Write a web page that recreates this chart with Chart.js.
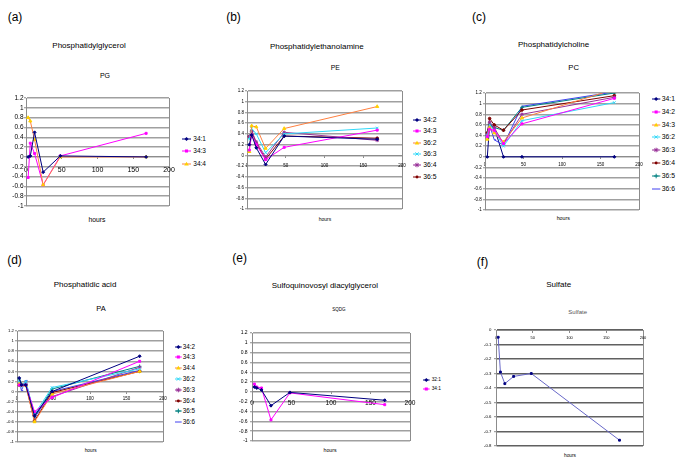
<!DOCTYPE html>
<html><head><meta charset="utf-8">
<script src="https://cdn.jsdelivr.net/npm/chart.js@4"></script>
<style>
body{margin:0;background:#fff;width:685px;height:466px;position:relative;overflow:hidden;font-family:'Liberation Sans',Arial,sans-serif;color:#000}
.t{position:absolute;white-space:nowrap;transform:translate(-50%,-50%);line-height:1}
.lt{position:absolute;white-space:nowrap;transform:translateY(-50%);line-height:1}
canvas{position:absolute}
svg{position:absolute;overflow:visible}
</style></head><body>
<script>
// ---------- data ----------
const hours = [3, 6, 12, 24, 48, 168];
const xTicks = [0, 50, 100, 150, 200];
const yTicksMain = [-1, -0.8, -0.6, -0.4, -0.2, 0, 0.2, 0.4, 0.6, 0.8, 1, 1.2];
const yTicksSulfate = [-0.8, -0.7, -0.6, -0.5, -0.4, -0.3, -0.2, -0.1, 0];

const pgLabels = ['34:1', '34:3', '34:4'];
const pg_34_1 = [0.0, 0.02, 0.5, -0.31, 0.02, 0.0];
const pg_34_3 = [-0.42, 0.28, 0.07, -0.57, 0.02, 0.48];
const pg_34_4 = [0.8, 0.73, 0.35, -0.57, 0.0, 0.0];

const peLabels = ['34:2', '34:3', '36:2', '36:3', '36:4', '36:5'];
const pe_34_2 = [0.2, 0.38, 0.14, -0.17, 0.36, 0.3];
const pe_34_3 = [0.1, 0.38, 0.2, -0.08, 0.15, 0.47];
const pe_36_2 = [0.07, 0.55, 0.53, 0.13, 0.5, 0.91];
const pe_36_3 = [0.3, 0.5, 0.4, 0.05, 0.4, 0.51];
const pe_36_4 = [0.35, 0.45, 0.25, -0.03, 0.43, 0.28];
const pe_36_5 = [0.35, 0.45, 0.22, -0.07, 0.36, 0.32];

const pcLabels = ['34:1', '34:2', '34:3', '36:2', '36:3', '36:4', '36:5', '36:6'];
const pc_34_1 = [0, 0.6, 0.55, 0, 0, 0];
const pc_34_2 = [0.38, 0.52, 0.5, 0.25, 0.62, 1.1];
const pc_34_3 = [0.33, 0.55, 0.45, 0.28, 0.73, 1.27];
const pc_36_2 = [0.4, 0.6, 0.5, 0.2, 0.68, 1.02];
const pc_36_3 = [0.42, 0.65, 0.55, 0.25, 0.8, 1.12];
const pc_36_4 = [0.45, 0.72, 0.6, 0.5, 0.88, 1.15];
const pc_36_5 = [0.4, 0.6, 0.55, 0.5, 0.93, 1.2];
const pc_36_6 = [0.5, 0.6, 0.32, 0.22, 0.95, 1.22];

const paLabels = ['34:2', '34:3', '34:4', '36:2', '36:3', '36:4', '36:5', '36:6'];
const pa_34_2 = [0.27, 0.13, 0.13, -0.48, 0.0, 0.7];
const pa_34_3 = [0.13, 0.13, 0.13, -0.4, -0.12, 0.6];
const pa_34_4 = [0.15, 0.13, 0.12, -0.6, -0.05, 0.4];
const pa_36_2 = [0.2, 0.1, 0.2, -0.45, 0.08, 0.45];
const pa_36_3 = [0.15, 0.12, 0.15, -0.45, -0.1, 0.48];
const pa_36_4 = [0.13, 0.13, 0.13, -0.58, -0.02, 0.4];
const pa_36_5 = [0.25, 0.15, 0.15, -0.5, 0.05, 0.5];
const pa_36_6 = [0.22, 0.02, 0.22, -0.52, 0.0, 0.42];

const sqLabels = ['32:1', '34:1'];
const sq_32_1 = [0.1, 0.08, 0.04, -0.28, -0.01, -0.17];
const sq_34_1 = [0.16, 0.1, 0.08, -0.57, -0.02, -0.26];

const sulfate = [-0.05, -0.29, -0.37, -0.32, -0.3, -0.76];

// ---------- styles ----------
const ST = {
  navy:    {line:'#000080', fill:'#000080', pt:'rectRot', r:1.5},
  magenta: {line:'#FF00FF', fill:'#FF00FF', pt:'rect', r:1.4},
  orange:  {line:'#FF8040', fill:'#FFD000', pt:'triangle', r:1.8},
  cyan:    {line:'#30D8F8', fill:'#30D8F8', pt:'crossRot', r:1.8},
  purple:  {line:'#993399', fill:'#993399', pt:'star', r:1.8},
  darkred: {line:'#800000', fill:'#800000', pt:'circle', r:1.3},
  teal:    {line:'#008080', fill:'#008080', pt:'cross', r:1.8},
  blue:    {line:'#4040F0', fill:'#4040F0', pt:'dash', r:1.8},
  sulf:    {line:'#6868C8', fill:'#000080', pt:'rect', r:1.3}
};
const FONT = "'Liberation Sans', Arial, sans-serif";

function txt(s, x, y, size, extra) {
  const d = document.createElement('div');
  d.className = 't'; d.textContent = s;
  d.style.left = x + 'px'; d.style.top = y + 'px'; d.style.fontSize = size + 'px';
  if (extra) Object.assign(d.style, extra);
  document.body.appendChild(d);
}

function markerSvg(st, cx, cy) {
  const r = st.r + 0.5, c = st.fill;
  switch (st.pt) {
    case 'rectRot': return `<path d="M${cx} ${cy-r}L${cx+r} ${cy}L${cx} ${cy+r}L${cx-r} ${cy}Z" fill="${c}"/>`;
    case 'rect': return `<rect x="${cx-r*0.8}" y="${cy-r*0.8}" width="${r*1.6}" height="${r*1.6}" fill="${c}"/>`;
    case 'triangle': return `<path d="M${cx} ${cy-r}L${cx+r} ${cy+r*0.7}L${cx-r} ${cy+r*0.7}Z" fill="${c}"/>`;
    case 'crossRot': return `<path d="M${cx-r*0.7} ${cy-r*0.7}L${cx+r*0.7} ${cy+r*0.7}M${cx+r*0.7} ${cy-r*0.7}L${cx-r*0.7} ${cy+r*0.7}" stroke="${c}" stroke-width="1"/>`;
    case 'star': return `<path d="M${cx-r} ${cy}L${cx+r} ${cy}M${cx} ${cy-r}L${cx} ${cy+r}M${cx-r*0.7} ${cy-r*0.7}L${cx+r*0.7} ${cy+r*0.7}M${cx+r*0.7} ${cy-r*0.7}L${cx-r*0.7} ${cy+r*0.7}" stroke="${c}" stroke-width="1"/>`;
    case 'circle': return `<circle cx="${cx}" cy="${cy}" r="${r*0.8}" fill="${c}"/>`;
    case 'cross': return `<path d="M${cx-r} ${cy}L${cx+r} ${cy}M${cx} ${cy-r}L${cx} ${cy+r}" stroke="${c}" stroke-width="1"/>`;
    default: return '';
  }
}

function legend(labels, styles, x0, len, tx, y0, step, size) {
  labels.forEach((lab, i) => {
    const st = ST[styles[i]], y = y0 + i * step;
    const s = document.createElementNS('http://www.w3.org/2000/svg', 'svg');
    s.setAttribute('width', len); s.setAttribute('height', 8);
    s.style.left = x0 + 'px'; s.style.top = (y - 4) + 'px';
    s.innerHTML = `<line x1="0" y1="4" x2="${len}" y2="4" stroke="${st.line}" stroke-width="1"/>` + markerSvg(st, len / 2, 4);
    document.body.appendChild(s);
    const d = document.createElement('div');
    d.className = 'lt'; d.textContent = lab;
    d.style.left = tx + 'px'; d.style.top = y + 'px'; d.style.fontSize = size + 'px';
    document.body.appendChild(d);
  });
}

function panel(p) {
  const c = document.createElement('canvas');
  const W = p.W, cw = W + (p.R - p.L) + p.pr, ch = p.pt + (p.B - p.T) + p.pb;
  c.width = cw; c.height = ch;
  c.style.left = (p.L - W) + 'px'; c.style.top = (p.T - p.pt) + 'px';
  c.style.width = cw + 'px'; c.style.height = ch + 'px';
  document.body.appendChild(c);
  const grid = p.gridColor || '#a0a0a0', box = p.boxColor || '#8c8c8c';
  new Chart(c, {
    type: 'line',
    data: {
      datasets: p.series.map(s => {
        const st = ST[s.style];
        return {
          label: s.label,
          data: hours.map((h, i) => ({x: h, y: s.values[i]})),
          borderColor: st.line, borderWidth: 1,
          pointStyle: st.pt, pointRadius: st.r, pointHoverRadius: st.r,
          pointBackgroundColor: st.fill, pointBorderColor: st.fill, pointBorderWidth: 1,
          tension: 0, fill: false
        };
      })
    },
    options: {
      responsive: false, animation: false, devicePixelRatio: 1,
      layout: {padding: {left: 0, top: p.pt, right: p.pr, bottom: p.pb}},
      plugins: {legend: {display: false}, tooltip: {enabled: false}, title: {display: false}},
      scales: {
        x: {
          type: 'linear', min: 0, max: 200, position: {y: p.xAt},
          afterBuildTicks: s => { s.ticks = xTicks.map(v => ({value: v})); },
          afterFit: s => { s.paddingLeft = 0; s.paddingRight = 0; },
          ticks: {font: {family: FONT, size: p.xf}, color: '#000', padding: p.xpad, maxRotation: 0, autoSkip: false,
                  callback: v => String(v)},
          grid: {
            color: ctx => (ctx.tick && (ctx.tick.value === 0 || ctx.tick.value === 200)) ? box : 'rgba(0,0,0,0)',
            lineWidth: 1, tickLength: 2, tickColor: box, tickWidth: 1
          },
          border: {display: true, color: box, width: 1}
        },
        y: {
          type: 'linear', min: p.ymin, max: p.ymax, position: 'left',
          afterBuildTicks: s => { s.ticks = p.yTicks.map(v => ({value: v})); },
          afterFit: s => { s.width = W; s.paddingTop = 0; s.paddingBottom = 0; },
          ticks: {font: {family: FONT, size: p.yf}, color: '#000', padding: p.ypad, autoSkip: false,
                  callback: v => String(Math.round(v * 10) / 10)},
          grid: {color: grid, lineWidth: p.gridW || 1.5, tickLength: 2, tickColor: box, tickWidth: 1},
          border: {display: true, color: box, width: 1}
        }
      }
    }
  });
}

// ---------- panels ----------
panel({L:26, R:169, T:98, B:206, W:24, pt:6, pr:9, pb:4, xAt:0, ymin:-1, ymax:1.2, yTicks:yTicksMain,
  xf:7, xpad:6.5, yf:6.5, ypad:0.5,
  series:[{label:pgLabels[0], values:pg_34_1, style:'navy'},
          {label:pgLabels[2], values:pg_34_4, style:'orange'},
          {label:pgLabels[1], values:pg_34_3, style:'magenta'}]});
panel({L:247, R:402, T:91, B:209, W:18, pt:6, pr:8, pb:4, xAt:0, ymin:-1, ymax:1.2, yTicks:yTicksMain,
  xf:4.5, xpad:5.7, yf:4.5, ypad:1,
  series:[{label:peLabels[0], values:pe_34_2, style:'navy'},
          {label:peLabels[1], values:pe_34_3, style:'magenta'},
          {label:peLabels[2], values:pe_36_2, style:'orange'},
          {label:peLabels[3], values:pe_36_3, style:'cyan'},
          {label:peLabels[4], values:pe_36_4, style:'purple'},
          {label:peLabels[5], values:pe_36_5, style:'darkred'}]});
panel({L:485, R:639, T:93, B:210, W:18, pt:6, pr:8, pb:4, xAt:0, ymin:-1, ymax:1.2, yTicks:yTicksMain,
  xf:4.5, xpad:3, yf:4.5, ypad:1.3,
  series:[{label:pcLabels[1], values:pc_34_2, style:'magenta'},
          {label:pcLabels[2], values:pc_34_3, style:'orange'},
          {label:pcLabels[3], values:pc_36_2, style:'cyan'},
          {label:pcLabels[4], values:pc_36_3, style:'purple'},
          {label:pcLabels[5], values:pc_36_4, style:'darkred'},
          {label:pcLabels[6], values:pc_36_5, style:'teal'},
          {label:pcLabels[7], values:pc_36_6, style:'blue'},
          {label:pcLabels[0], values:pc_34_1, style:'navy'}]});
panel({L:17, R:163, T:331, B:442, W:16, pt:6, pr:8, pb:4, xAt:0, ymin:-1, ymax:1.2, yTicks:yTicksMain,
  xf:4.5, xpad:2.3, yf:4.3, ypad:1,
  series:[{label:paLabels[0], values:pa_34_2, style:'navy'},
          {label:paLabels[1], values:pa_34_3, style:'magenta'},
          {label:paLabels[2], values:pa_34_4, style:'orange'},
          {label:paLabels[3], values:pa_36_2, style:'cyan'},
          {label:paLabels[4], values:pa_36_3, style:'purple'},
          {label:paLabels[5], values:pa_36_4, style:'darkred'},
          {label:paLabels[6], values:pa_36_5, style:'teal'},
          {label:paLabels[7], values:pa_36_6, style:'blue'}]});
panel({L:252, R:410, T:333, B:441, W:18, pt:6, pr:9, pb:4, xAt:0, ymin:-1, ymax:1.2, yTicks:yTicksMain,
  xf:6.6, xpad:5.7, yf:5, ypad:2.4,
  series:[{label:sqLabels[0], values:sq_32_1, style:'navy'},
          {label:sqLabels[1], values:sq_34_1, style:'magenta'}]});
panel({L:496, R:643, T:330, B:446, W:20, pt:6, pr:8, pb:4, xAt:0, ymin:-0.8, ymax:0, yTicks:yTicksSulfate,
  xf:4, xpad:3.3, yf:4.3, ypad:2.6, gridColor:'#606060', gridW:1.4,
  series:[{label:'Sulfate', values:sulfate, style:'sulf'}]});

// ---------- legends ----------
legend(pgLabels, ['navy','magenta','orange'], 182, 9, 193.3, 139, 12.3, 6.5);
legend(peLabels, ['navy','magenta','orange','cyan','purple','darkred'], 412.7, 8, 423.3, 120, 11.35, 6.8);
legend(pcLabels, ['navy','magenta','orange','cyan','purple','darkred','teal','blue'], 651.7, 8.3, 661.7, 98.7, 12.9, 6.8);
legend(paLabels, ['navy','magenta','orange','cyan','purple','darkred','teal','blue'], 175, 6.7, 182.7, 346.7, 10.76, 6.3);
legend(sqLabels, ['navy','magenta'], 422.7, 6.6, 431.7, 380, 9, 4.8);

// ---------- texts ----------
txt('(a)', 15, 16.7, 12); txt('(b)', 233.5, 17, 12); txt('(c)', 479, 16.7, 12);
txt('(d)', 14.5, 260, 12); txt('(e)', 239.7, 258.3, 12); txt('(f)', 482.5, 262.3, 12);
txt('Phosphatidylglycerol', 89, 45.7, 8); txt('PG', 105, 75, 7); txt('hours', 97, 220, 6.8);
txt('Phosphatidylethanolamine', 316.8, 47.3, 8); txt('PE', 335.3, 67.7, 6.8); txt('hours', 325, 219, 5);
txt('Phosphatidylcholine', 553.5, 45, 8); txt('PC', 573.7, 68.3, 7.7); txt('hours', 563.3, 219.3, 5.3);
txt('Phosphatidic acid', 85, 285, 8); txt('PA', 101, 309, 7.5); txt('hours', 90.7, 450.7, 4.8);
txt('Sulfoquinovosyl diacylglycerol', 324.8, 285.7, 8); txt('SQDG', 339, 310, 4.5); txt('hours', 330, 450.7, 5.2);
txt('Sulfate', 558.7, 285, 8); txt('Sulfate', 577.7, 311.7, 6, {color:'#555'}); txt('hours', 570, 456, 4.8);
</script>
</body></html>
